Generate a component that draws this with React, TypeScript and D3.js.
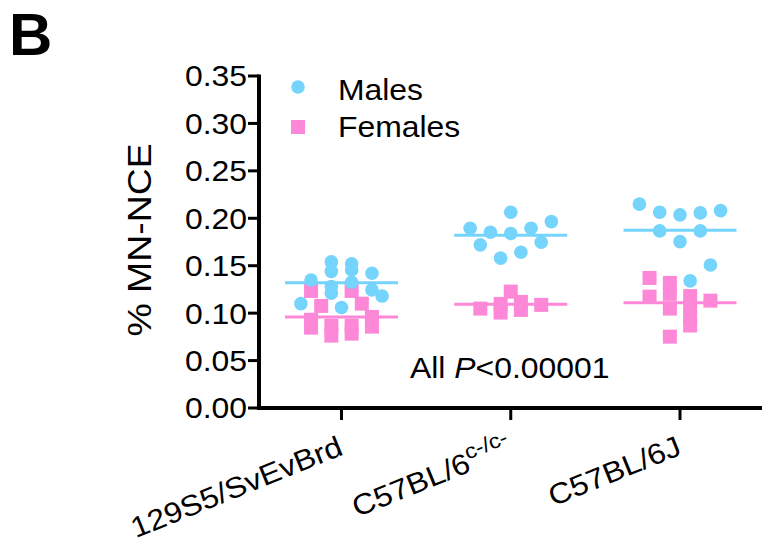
import React from "react";
import * as d3 from "d3";

// Strains on the x axis
const strains = ["129S5/SvEvBrd", "C57BL/6c", "C57BL/6J"];

// Per-animal % MN-NCE, with the column slot each dot sits in within its strain
const maleValues = [
  [0.154, 0.144, 0.152, 0.1456, 0.142, 0.135, 0.1326, 0.128, 0.121, 0.1245, 0.118, 0.11, 0.106],
  [0.2064, 0.1895, 0.1853, 0.1839, 0.1895, 0.1965, 0.172, 0.1748, 0.1642, 0.158],
  [0.2149, 0.2064, 0.2036, 0.2057, 0.2081, 0.1867, 0.1867, 0.1754, 0.1508, 0.134],
];
const maleSlots = [
  [-1, -1, 1, 1, 3, -3, 1, -1, -1, 3, 4, -4, 0],
  [0, -4, -2, 0, 2, 4, -3, 3, 1, -1],
  [-4, -2, 0, 2, 4, -2, 2, 0, 3, 1],
];
const femaleValues = [
  [0.1234, 0.1076, 0.093, 0.0847, 0.0868, 0.0763, 0.1234, 0.0868, 0.0784, 0.11, 0.096, 0.0858],
  [0.1048, 0.1097, 0.1006, 0.1227, 0.1118, 0.1034, 0.1087],
  [0.1371, 0.1174, 0.1319, 0.1203, 0.1048, 0.0752, 0.118, 0.106, 0.095, 0.087, 0.1132],
];
const femaleSlots = [
  [-3, -2, -3, -3, -1, -1, 1, 1, 1, 2, 3, 3],
  [-3, -1, -1, 0, 1, 1, 3],
  [-3, -3, -1, -1, -1, -1, 1, 1, 1, 1, 3],
];

// Group means drawn as horizontal bars
const maleMeans = [0.132, 0.182, 0.1875];
const femaleMeans = [0.096, 0.1095, 0.111];

const yTicks = [0, 0.05, 0.1, 0.15, 0.2, 0.25, 0.3, 0.35];

const BLUE = "#74d4fc";
const PINK = "#fd88d7";
const FONT = "'Liberation Sans', Arial, sans-serif";
// text is set slightly wide
const SX = 1.1;

export default function App() {
  const width = 762;
  const height = 543;
  const axisX = 259;
  const axisY = 408;

  const y = d3.scaleLinear().domain([0, 0.35]).range([axisY, 76]);
  const x = d3.scalePoint<string>().domain(strains).range([341.5, 680]);
  const slotStep = 10.15;
  const meanHalf = 56.5;
  const r = 6.8;
  const sq = 14;
  const fmt = d3.format(".2f");

  const px = (g: number, slot: number) => (x(strains[g]) as number) + slot * slotStep;

  return (
    <svg
      width={width}
      height={height}
      style={{ position: "absolute", left: 0, top: 0, background: "#fff" }}
      fontFamily={FONT}
    >
      {/* panel letter */}
      <text x={9} y={55} fontSize={60} fontWeight="bold" fill="#000">B</text>

      {/* y axis title */}
      <text
        transform={`translate(151,240) rotate(-90) scale(${SX},1)`}
        textAnchor="middle"
        fontSize={34}
        fill="#000"
      >
        % MN-NCE
      </text>

      {/* females */}
      {femaleValues.map((vals, g) =>
        vals.map((v, i) => (
          <rect
            key={`f${g}-${i}`}
            x={px(g, femaleSlots[g][i]) - sq / 2}
            y={y(v) - sq / 2}
            width={sq}
            height={sq}
            fill={PINK}
          />
        ))
      )}
      {femaleMeans.map((m, g) => (
        <line
          key={`fm${g}`}
          x1={(x(strains[g]) as number) - meanHalf}
          x2={(x(strains[g]) as number) + meanHalf}
          y1={y(m)}
          y2={y(m)}
          stroke={PINK}
          strokeWidth={3}
        />
      ))}
      {maleMeans.map((m, g) => (
        <line
          key={`mm${g}`}
          x1={(x(strains[g]) as number) - meanHalf}
          x2={(x(strains[g]) as number) + meanHalf}
          y1={y(m)}
          y2={y(m)}
          stroke={BLUE}
          strokeWidth={3}
        />
      ))}
      {/* males */}
      {maleValues.map((vals, g) =>
        vals.map((v, i) => (
          <circle
            key={`m${g}-${i}`}
            cx={px(g, maleSlots[g][i])}
            cy={y(v)}
            r={r}
            fill={BLUE}
          />
        ))
      )}

      {/* y axis */}
      <line x1={axisX} x2={axisX} y1={y(0.35) - 1.5} y2={axisY + 2} stroke="#000" strokeWidth={4} />
      {yTicks.map((t) => (
        <g key={t}>
          <line x1={axisX - 11} x2={axisX} y1={y(t)} y2={y(t)} stroke="#000" strokeWidth={3} />
          <text
            transform={`translate(${axisX - 12},${y(t)}) scale(${SX},1)`}
            dy="0.36em"
            textAnchor="end"
            fontSize={29}
            fill="#000"
          >
            {fmt(t)}
          </text>
        </g>
      ))}

      {/* x axis */}
      <line x1={axisX - 2} x2={width} y1={axisY} y2={axisY} stroke="#000" strokeWidth={4} />
      {strains.map((s, g) => {
        const cx = x(s) as number;
        return (
          <g key={s}>
            <line x1={cx} x2={cx} y1={axisY} y2={axisY + 12} stroke="#000" strokeWidth={3} />
            <text
              transform={`translate(${cx + 3},${axisY + 46}) rotate(-22) scale(${SX},1)`}
              textAnchor="end"
              fontSize={29}
              fill="#000"
            >
              {g === 1 ? (
                <>
                  C57BL/6
                  <tspan fontSize={21} dy={-12}>c-/c-</tspan>
                </>
              ) : (
                s
              )}
            </text>
          </g>
        );
      })}

      {/* legend */}
      <circle cx={298} cy={87} r={r} fill={BLUE} />
      <text transform={`translate(338,100) scale(${SX},1)`} fontSize={29} fill="#000">Males</text>
      <rect x={298 - sq / 2} y={127 - sq / 2} width={sq} height={sq} fill={PINK} />
      <text transform={`translate(338,137) scale(${SX},1)`} fontSize={29} fill="#000">Females</text>

      {/* significance note */}
      <text transform={`translate(410,378) scale(${SX},1)`} fontSize={29} fill="#000">
        All <tspan fontStyle="italic">P</tspan>{"<0.00001"}
      </text>
    </svg>
  );
}
